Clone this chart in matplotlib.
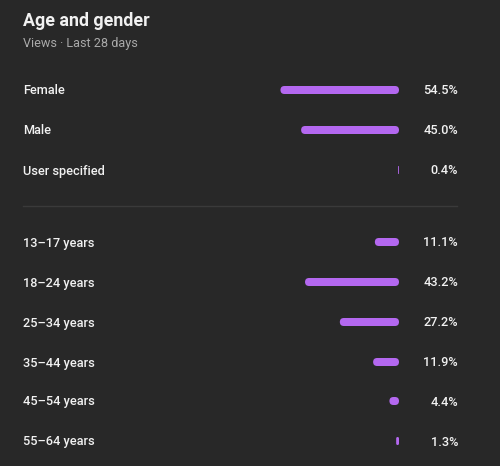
import matplotlib
matplotlib.use("Agg")
import matplotlib.pyplot as plt
from matplotlib.patches import FancyBboxPatch

plt.rcParams["font.family"] = ["Roboto", "DejaVu Sans"]

BG = "#282828"
BAR = "#b468f0"
FG = "#f1f1f1"
SUB = "#aaaaaa"
SEP = "#3a3a3a"

gender_labels = ["Female", "Male", "User specified"]
gender_values = [54.5, 45.0, 0.4]
age_labels = ["13–17 years", "18–24 years", "25–34 years",
              "35–44 years", "45–54 years", "55–64 years"]
age_values = [11.1, 43.2, 27.2, 11.9, 4.4, 1.3]

W, H = 500, 466
gender_y = [90, 130, 170]
age_y = [242, 282, 322, 362, 401, 441]
sep_y = 206

fig = plt.figure(figsize=(W / 100, H / 100), dpi=100, facecolor=BG)

# text layer in pixel units
ax = fig.add_axes([0, 0, 1, 1])
ax.set_xlim(0, W)
ax.set_ylim(H, 0)
ax.axis("off")
ax.set_facecolor(BG)

ax.text(23, 25.5, "Age and gender", color=FG, fontsize=12.8,
        fontweight="bold", ha="left", va="baseline")
ax.text(23, 47, "Views · Last 28 days", color=SUB, fontsize=9.1,
        ha="left", va="baseline")
ax.plot([23, 457], [sep_y, sep_y], color=SEP, lw=1)

# bar layer: x in percent, 0 at the right edge
bar_right = 399
px_per_pct = 2.175
xmax = 60
bar_left = bar_right - xmax * px_per_pct
bax = fig.add_axes([bar_left / W, 0, (bar_right - bar_left) / W, 1])
bax.set_xlim(xmax, 0)
bax.set_ylim(H, 0)
bax.axis("off")
bax.patch.set_alpha(0)

bar_h = 8
hh = bar_h / px_per_pct
for labels, values, ys in [(gender_labels, gender_values, gender_y),
                           (age_labels, age_values, age_y)]:
    for lab, v, y in zip(labels, values, ys):
        r = min(v, hh) / 2
        p = FancyBboxPatch((0, y - bar_h / 2), v, bar_h,
                           boxstyle=f"round,pad=0,rounding_size={r}",
                           mutation_aspect=px_per_pct,
                           facecolor=BAR, edgecolor="none")
        bax.add_patch(p)
        ax.text(23, y + 4.5, lab, color=FG, fontsize=9.2, fontweight="medium",
                ha="left", va="baseline")
        ax.text(458, y + 4.5, f"{v:.1f}%", color=FG, fontsize=9.2,
                fontweight="medium", ha="right", va="baseline")

fig.savefig("out.png", dpi=100, facecolor=BG)
